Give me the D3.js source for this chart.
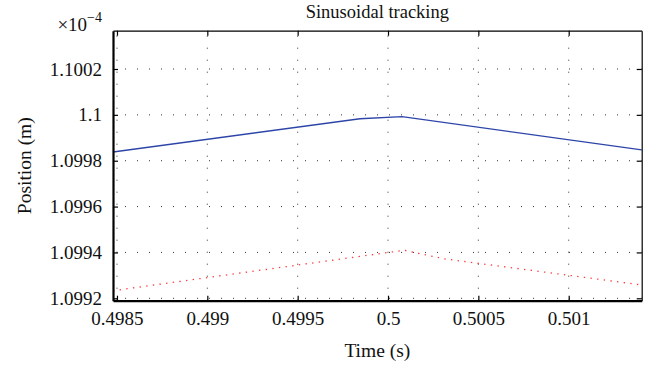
<!DOCTYPE html>
<html>
<head>
<meta charset="utf-8">
<script src="https://cdn.jsdelivr.net/npm/d3@7"></script>
<style>
  html, body { margin: 0; padding: 0; background: #fff; }
  svg { display: block; }
  svg text { font-family: "Liberation Serif", "Times New Roman", serif; fill: #111; }
</style>
</head>
<body>
<svg id="chart" width="645" height="366"></svg>
<script>
// Time samples (s) and positions (×1e-4 m) for the reference and the measured trace
const refTime = [0.498478, 0.499845, 0.5000775, 0.501404];
const refPos  = [1.099838, 1.099983, 1.0999925, 1.099847];

const outTime = [0.498478, 0.5000885, 0.5003154, 0.501404];
const outPos  = [1.099233, 1.0994095, 1.0993716, 1.0992582];

const xTicks = [0.4985, 0.499, 0.4995, 0.5, 0.5005, 0.501];
const xTickLabels = ["0.4985", "0.499", "0.4995", "0.5", "0.5005", "0.501"];
const yTicks = [1.0992, 1.0994, 1.0996, 1.0998, 1.1, 1.1002];
const yTickLabels = ["1.0992", "1.0994", "1.0996", "1.0998", "1.1", "1.1002"];

const xDomain = [0.498478, 0.501404];
const yDomain = [1.0991895, 1.100367];

const FONT = 19;
const svg = d3.select("#chart");
const box = { left: 113, right: 641.7, top: 30.7, bottom: 300.7 };

const x = d3.scaleLinear().domain(xDomain).range([box.left, box.right]);
const y = d3.scaleLinear().domain(yDomain).range([box.bottom, box.top]);

// Dotted grid
const grid = svg.append("g")
  .attr("stroke", "#333").attr("stroke-width", 1)
  .attr("stroke-dasharray", "1,11");
grid.selectAll("line.v").data(xTicks).join("line")
  .attr("x1", d => x(d)).attr("x2", d => x(d))
  .attr("y1", box.bottom).attr("y2", box.top);
grid.selectAll("line.h").data(yTicks).join("line")
  .attr("y1", d => y(d)).attr("y2", d => y(d))
  .attr("x1", box.left).attr("x2", box.right);

// Series
const line = d3.line().x(d => x(d[0])).y(d => y(d[1]));
const refData = refTime.map((t, i) => [t, refPos[i]]);
const outData = outTime.map((t, i) => [t, outPos[i]]);

svg.append("path").datum(outData)
  .attr("d", line).attr("fill", "none")
  .attr("stroke", "#ff3b3b").attr("stroke-width", 1.3)
  .attr("stroke-dasharray", "1.4,5.3");

svg.append("path").datum(refData)
  .attr("d", line).attr("fill", "none")
  .attr("stroke", "#2d45a8").attr("stroke-width", 1.3);

// Axes (ticks pointing inward, mirrored on top and right)
const tickLen = 5;
const bottomAxis = d3.axisBottom(x).tickValues(xTicks)
  .tickFormat((d, i) => xTickLabels[i]).tickSizeInner(-tickLen).tickSizeOuter(0).tickPadding(11);
const topAxis = d3.axisTop(x).tickValues(xTicks)
  .tickFormat("").tickSizeInner(-tickLen).tickSizeOuter(0);
const leftAxis = d3.axisLeft(y).tickValues(yTicks)
  .tickFormat((d, i) => yTickLabels[i]).tickSizeInner(-tickLen).tickSizeOuter(0).tickPadding(11);
const rightAxis = d3.axisRight(y).tickValues(yTicks)
  .tickFormat("").tickSizeInner(-tickLen).tickSizeOuter(0);

function styleAxis(g, width) {
  g.attr("font-family", null).attr("font-size", FONT);
  g.select(".domain").attr("stroke", "#000").attr("stroke-width", width);
  g.selectAll(".tick line").attr("stroke", "#000").attr("stroke-width", 1.2);
  g.selectAll(".tick text").attr("fill", "#111");
}

svg.append("g").attr("transform", `translate(0,${box.top})`).call(topAxis).call(g => styleAxis(g, 1.2));
svg.append("g").attr("transform", `translate(${box.right},0)`).call(rightAxis).call(g => styleAxis(g, 1.2));
svg.append("g").attr("transform", `translate(0,${box.bottom})`).call(bottomAxis).call(g => styleAxis(g, 2.2));
svg.append("g").attr("transform", `translate(${box.left},0)`).call(leftAxis).call(g => styleAxis(g, 2.2));

// Exponent label
const expo = svg.append("text").attr("x", 102).attr("y", 31)
  .attr("text-anchor", "end").attr("font-size", FONT);
expo.append("tspan").text("×10");
expo.append("tspan").attr("font-size", 14).attr("dy", -9).text("−4");

// Titles
svg.append("text")
  .attr("x", (box.left + box.right) / 2).attr("y", 18)
  .attr("text-anchor", "middle").attr("font-size", 18.5)
  .text("Sinusoidal tracking");

svg.append("text")
  .attr("x", (box.left + box.right) / 2).attr("y", 357)
  .attr("text-anchor", "middle").attr("font-size", 19.5)
  .text("Time (s)");

svg.append("text")
  .attr("transform", `translate(31,${(box.top + box.bottom) / 2}) rotate(-90)`)
  .attr("text-anchor", "middle").attr("font-size", 19.5)
  .text("Position (m)");
</script>
</body>
</html>
